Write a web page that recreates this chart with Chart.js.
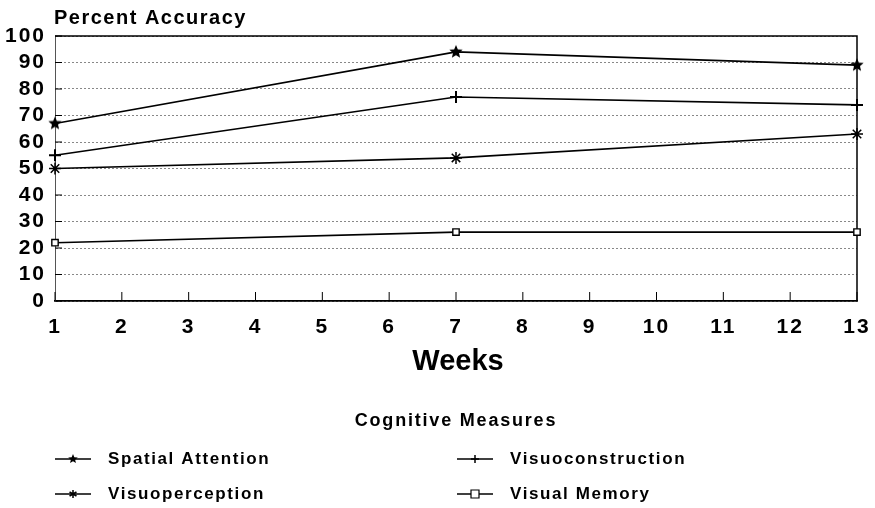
<!DOCTYPE html>
<html>
<head>
<meta charset="utf-8">
<title>Percent Accuracy by Week</title>
<script src="https://cdn.jsdelivr.net/npm/chart.js@4.4.1/dist/chart.umd.min.js"></script>
<style>
  html, body { margin: 0; padding: 0; background: #fff; }
  #wrap { width: 875px; height: 508px; }
</style>
</head>
<body>
<div id="wrap"><canvas id="chart" width="875" height="508"></canvas></div>
<script>
// data
const weeks = [1, 7, 13];
const weekTicks = [1, 2, 3, 4, 5, 6, 7, 8, 9, 10, 11, 12, 13];
const percentTicks = [0, 10, 20, 30, 40, 50, 60, 70, 80, 90, 100];
const spatialAttention = [67, 94, 89];
const visuoconstruction = [55, 77, 74];
const visuoperception = [50, 54, 63];
const visualMemory = [22, 26, 26];

const FONT = "'Liberation Sans', Arial, Helvetica, sans-serif";

// filled five point star for Spatial Attention
function starImage(r) {
  const c = document.createElement('canvas');
  c.width = c.height = r * 2 + 2;
  const g = c.getContext('2d');
  g.fillStyle = '#000';
  g.beginPath();
  for (let i = 0; i < 10; i++) {
    const rad = i % 2 === 0 ? r : r * 0.45;
    const a = -Math.PI / 2 + i * Math.PI / 5;
    const px = r + 1 + rad * Math.cos(a), py = r + 1 + rad * Math.sin(a);
    i === 0 ? g.moveTo(px, py) : g.lineTo(px, py);
  }
  g.closePath();
  g.fill();
  return c;
}

const bigStar = starImage(7);
const smallStar = starImage(5);

function pts(vals) {
  return weeks.map((w, i) => ({ x: w, y: vals[i] }));
}

const series = [
  { label: 'Spatial Attention', data: spatialAttention, style: bigStar, legendStyle: 'fivestar', radius: 7, bw: 1 },
  { label: 'Visuoconstruction', data: visuoconstruction, style: 'cross', legendStyle: 'cross', radius: 6, bw: 2 },
  { label: 'Visuoperception', data: visuoperception, style: 'star', legendStyle: 'star', radius: 6, bw: 1.5 },
  { label: 'Visual Memory', data: visualMemory, style: 'rect', legendStyle: 'rect', radius: 4.5, bw: 1.4 }
];

function drawMarker(ctx, style, x, y, r) {
  ctx.save();
  ctx.strokeStyle = '#000';
  ctx.fillStyle = '#000';
  ctx.lineWidth = 1.5;
  ctx.beginPath();
  if (style === 'fivestar') {
    ctx.drawImage(smallStar, x - smallStar.width / 2, y - smallStar.height / 2);
  } else if (style === 'cross') {
    ctx.moveTo(x, y - r); ctx.lineTo(x, y + r);
    ctx.moveTo(x - r, y); ctx.lineTo(x + r, y);
    ctx.stroke();
  } else if (style === 'star') {
    for (let i = 0; i < 3; i++) {
      const a = Math.PI / 2 + i * Math.PI / 3;
      ctx.moveTo(x - r * Math.cos(a), y - r * Math.sin(a));
      ctx.lineTo(x + r * Math.cos(a), y + r * Math.sin(a));
    }
    ctx.stroke();
  } else if (style === 'rect') {
    ctx.fillStyle = '#fff';
    ctx.lineWidth = 1.2;
    ctx.rect(x - r, y - r, r * 2, r * 2);
    ctx.fill();
    ctx.stroke();
  }
  ctx.restore();
}

// frame, inward tick marks, axis titles and the two column legend
const decorations = {
  id: 'decorations',
  beforeLayout(chart) {
    chart.ctx.letterSpacing = '2px';
  },
  beforeDraw(chart) {
    chart.ctx.letterSpacing = '2px';
  },
  beforeDatasetsDraw(chart) {
    const { ctx, chartArea: a, scales } = chart;
    ctx.save();
    ctx.strokeStyle = '#000';
    ctx.lineWidth = 1.5;
    ctx.beginPath();
    ctx.moveTo(a.left, a.top); ctx.lineTo(a.right, a.top);
    ctx.lineTo(a.right, a.bottom);
    ctx.stroke();
    ctx.lineWidth = 1;
    ctx.beginPath();
    weekTicks.forEach(w => {
      const x = scales.x.getPixelForValue(w);
      ctx.moveTo(x, a.bottom); ctx.lineTo(x, a.bottom - 9);
    });
    percentTicks.forEach(p => {
      const y = scales.y.getPixelForValue(p);
      ctx.moveTo(a.left, y); ctx.lineTo(a.left + 7, y);
    });
    ctx.stroke();
    ctx.restore();
  },
  afterDraw(chart) {
    const { ctx, chartArea: a } = chart;
    ctx.save();
    ctx.fillStyle = '#000';

    ctx.font = 'bold 20px ' + FONT;
    ctx.letterSpacing = '1.5px';
    ctx.textAlign = 'left';
    ctx.textBaseline = 'alphabetic';
    ctx.fillText('Percent Accuracy', a.left - 1, 24);

    ctx.font = 'bold 29px ' + FONT;
    ctx.letterSpacing = '0px';
    ctx.textAlign = 'center';
    ctx.textBaseline = 'middle';
    ctx.fillText('Weeks', (a.left + a.right) / 2 + 2, 362);

    ctx.font = 'bold 18px ' + FONT;
    ctx.letterSpacing = '1.8px';
    ctx.fillText('Cognitive Measures', (a.left + a.right) / 2, 421);

    const cols = [55, 457];
    const rows = [459, 494];
    const order = [0, 2, 1, 3]; // left column SA, VP; right column VC, VM
    ctx.font = 'bold 17px ' + FONT;
    ctx.letterSpacing = '1.6px';
    ctx.textAlign = 'left';
    order.forEach((si, k) => {
      const x = cols[Math.floor(k / 2)];
      const y = rows[k % 2];
      const s = series[si];
      ctx.strokeStyle = '#000';
      ctx.lineWidth = 1.6;
      ctx.beginPath();
      ctx.moveTo(x, y); ctx.lineTo(x + 36, y);
      ctx.stroke();
      drawMarker(ctx, s.legendStyle, x + 18, y, 4);
      ctx.fillText(s.label, x + 53, y);
    });
    ctx.restore();
  }
};

const chart = new Chart(document.getElementById('chart'), {
  type: 'line',
  data: {
    datasets: series.map(s => ({
      label: s.label,
      data: pts(s.data),
      borderColor: '#000',
      borderWidth: 1.6,
      pointStyle: s.style,
      pointRadius: s.radius,
      pointBorderWidth: s.bw,
      pointBorderColor: '#000',
      pointBackgroundColor: s.style === 'rect' ? '#fff' : '#000',
      tension: 0,
      clip: false
    }))
  },
  options: {
    responsive: false,
    animation: false,
    events: [],
    layout: { padding: { top: 36, right: 18, left: 0, bottom: 0 } },
    plugins: {
      legend: { display: false },
      title: { display: false },
      tooltip: { enabled: false }
    },
    scales: {
      x: {
        type: 'linear',
        min: 1,
        max: 13,
        afterBuildTicks: s => { s.ticks = weekTicks.map(v => ({ value: v })); },
        afterFit: s => { s.height = 207; s.paddingLeft = 0; s.paddingRight = 0; },
        grid: { drawOnChartArea: false, drawTicks: false },
        border: { display: true, color: '#000', width: 1.8 },
        ticks: {
          color: '#000',
          padding: 14,
          maxRotation: 0,
          autoSkip: false,
          font: { family: FONT, size: 21, weight: 'bold' }
        }
      },
      y: {
        min: 0,
        max: 100,
        afterBuildTicks: s => { s.ticks = percentTicks.map(v => ({ value: v })); },
        afterFit: s => { s.width = 55; },
        grid: {
          drawTicks: false,
          color: '#888',
          lineWidth: 1
        },
        border: { display: true, color: '#555', width: 1, dash: [2, 2] },
        ticks: {
          color: '#000',
          padding: 9,
          autoSkip: false,
          font: { family: FONT, size: 21, weight: 'bold' }
        }
      }
    }
  },
  plugins: [decorations]
});
</script>
</body>
</html>
